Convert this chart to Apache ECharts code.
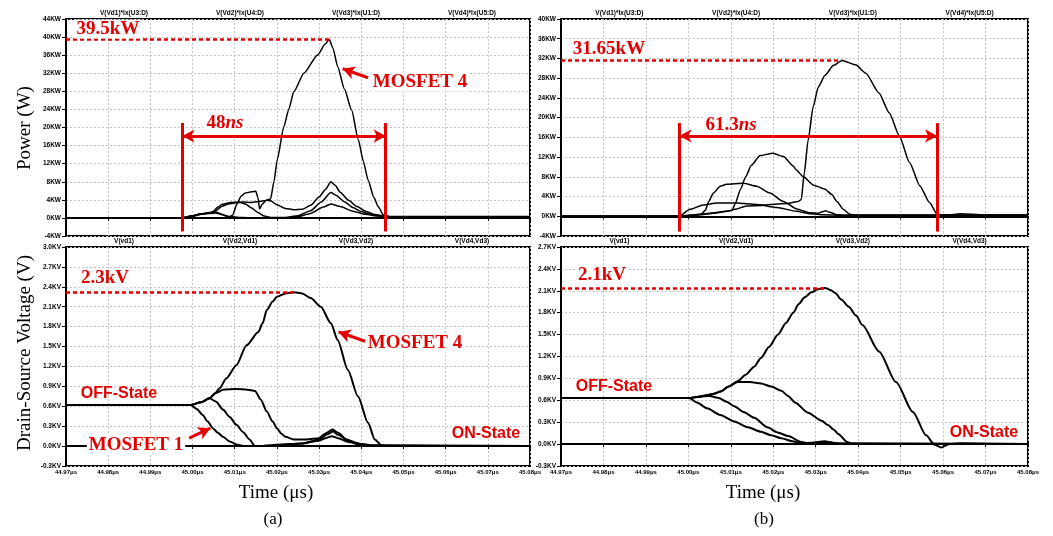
<!DOCTYPE html>
<html><head><meta charset="utf-8">
<script src="https://cdn.jsdelivr.net/npm/echarts@6/dist/echarts.min.js"></script>
<style>html,body{margin:0;padding:0;background:#fff}#c{width:1053px;height:536px}</style>
</head><body><div id="c"></div>
<script>
// ---------- DATA (time in ns, power in kW, voltage in kV) ----------
const tracePowerLabels = ['V(Vd1)*Ix(U3:D)','V(Vd2)*Ix(U4:D)','V(Vd3)*Ix(U1:D)','V(Vd4)*Ix(U5:D)'];
const traceVoltLabels  = ['V(vd1)','V(Vd2,Vd1)','V(Vd3,Vd2)','V(Vd4,Vd3)'];

// (a) power
const powA1 = [[44970,0],[44997.6,0],[45000,0.4],[45002,0.8],[45004,1.0],[45005.5,1.1],[45007,0.7],[45009,0.3],[45011,0.1],[45013,0.05],[45022,0.05],[45025,0.3],[45028,1.0],[45031,2.4],[45032.8,3.1],[45035,2.5],[45038,1.5],[45041,0.8],[45044,0.4],[45046,0.2],[45080,0.1]];
const powA2 = [[44970,0],[44997.6,0],[45000,0.5],[45002,0.9],[45004,1.1],[45005,1.5],[45006,2.4],[45007,3.0],[45009,3.4],[45011,3.5],[45012.5,3.1],[45014,2.2],[45015.5,1.2],[45017,0.4],[45018.5,0.1],[45022,0.1],[45025,0.5],[45028,1.6],[45030.5,3.5],[45032.8,5.6],[45034,5.0],[45036,3.6],[45038,2.3],[45040,1.4],[45042,0.8],[45044,0.5],[45046,0.2],[45080,0.1]];
const powA3 = [[44970,0],[44997.6,0],[45000,0.5],[45002,0.9],[45004,1.2],[45005.5,1.3],[45007,0.8],[45008.5,0.1],[45009.5,0.6],[45010.5,3.0],[45011.5,4.8],[45012.5,5.5],[45014,5.8],[45015,5.9],[45015.5,4.5],[45015.9,2.0],[45016.5,3.0],[45017.5,3.9],[45018.5,3.8],[45020,2.9],[45022,2.1],[45024,1.8],[45026,1.9],[45028,2.8],[45030,4.6],[45031.5,6.3],[45032.8,8.0],[45033.8,7.2],[45035,5.7],[45037,3.9],[45039,2.5],[45041,1.5],[45043,0.8],[45045,0.5],[45047,0.2],[45080,0.1]];
const powA4 = [[44970,0],[44997.6,0],[45000,0.4],[45002,0.8],[45004,1.1],[45005.5,1.6],[45007,2.6],[45008.5,3.1],[45010,3.3],[45012,3.5],[45014,3.4],[45015.5,3.6],[45017,3.8],[45018.5,4.2],[45019.3,8],[45020.1,13],[45021.6,20],[45022.8,24],[45024,27.9],[45026.4,32],[45029.6,36],[45031.5,38.5],[45032.4,39.5],[45033.3,37.5],[45034.4,33.5],[45036,28.5],[45037.7,23.9],[45039.3,17.3],[45040.5,12.5],[45041.6,8.4],[45043,4.5],[45044,2.5],[45045.2,0.7],[45047,0.3],[45080,0.3]];

// (b) power
const powB1 = [[44970,0],[44997.8,0],[45000.4,1.4],[45003.5,2.3],[45006.7,2.7],[45011.4,2.7],[45016.1,2.4],[45020.8,1.8],[45025.5,1.0],[45028.7,0.5],[45031.8,0.3],[45036,0.2],[45080,0.2]];
const powB2 = [[44970,0],[44997.8,0],[45001,0.2],[45003,0.4],[45004,1.2],[45004.8,3.0],[45005.9,4.7],[45007.5,6.1],[45009,6.5],[45013,6.7],[45016.1,6.1],[45019.2,4.7],[45022.4,3.0],[45025.5,1.5],[45028.7,0.7],[45030.5,0.6],[45031.5,0.9],[45032.3,1.1],[45033.3,0.8],[45035,0.3],[45037,0.2],[45080,0.2]];
const powB3 = [[44970,0],[44997.8,0],[45003,0.3],[45006,0.6],[45009,1.0],[45010.3,1.2],[45011,2.5],[45012.3,5.5],[45013.5,8.0],[45014.8,10.3],[45016.9,12.3],[45019.9,12.8],[45022.4,12.1],[45024.7,10.2],[45025.3,9.5],[45027.1,8.0],[45029.5,6.3],[45032.2,5.5],[45033.8,4.4],[45035,3.0],[45036.5,1.4],[45038,0.4],[45040,0.2],[45080,0.2]];
const powB4 = [[44970,0],[44997.8,0],[45000,0.2],[45003,0.4],[45006,0.7],[45009,1.0],[45011,1.4],[45013.7,2.1],[45016.9,2.2],[45019.2,2.4],[45023.2,2.6],[45025.9,3.0],[45026.6,3.4],[45027.3,8.7],[45028.2,15.4],[45029.4,22.2],[45030.6,26.2],[45032.2,28.6],[45034.2,30.6],[45036.2,31.6],[45039.4,30.7],[45041.8,29.0],[45044.9,25.0],[45047.3,21.0],[45049.7,16.3],[45052.1,10.9],[45054.5,6.2],[45056.8,2.8],[45058.6,0.4],[45061,0.2],[45064,0.5],[45067,0.4],[45070,0.2],[45080,0.2]];

// (a) drain-source voltage
const voltA1 = [[44970,0.62],[44999.6,0.62],[45001,0.56],[45002.4,0.47],[45003.6,0.37],[45004.8,0.27],[45006,0.2],[45007.2,0.14],[45008.8,0.07],[45010.4,0.025],[45012,0],[45016,0],[45020,0.02],[45026,0.04],[45030,0.08],[45031.5,0.12],[45033,0.15],[45034.5,0.12],[45037,0.06],[45040,0.02],[45043,0.005],[45080,0]];
const voltA2 = [[44970,0.62],[44999.6,0.62],[45002,0.66],[45004,0.72],[45005.6,0.67],[45007.2,0.55],[45008.8,0.44],[45010.4,0.32],[45012,0.21],[45013.5,0.1],[45014.8,0],[45020,0.01],[45026,0.04],[45030,0.1],[45032,0.18],[45033.3,0.22],[45034.5,0.17],[45037,0.08],[45040,0.03],[45043,0.01],[45080,0]];
const voltA3 = [[44970,0.62],[44999.6,0.62],[45002,0.66],[45004,0.72],[45005.6,0.8],[45007.2,0.85],[45010.4,0.86],[45013,0.85],[45014.8,0.83],[45016.2,0.7],[45017.6,0.52],[45019,0.37],[45020,0.27],[45021,0.19],[45022,0.14],[45024,0.1],[45027,0.1],[45030,0.12],[45031.5,0.19],[45033.2,0.25],[45034.5,0.2],[45036.5,0.1],[45039,0.04],[45042,0.01],[45080,0]];
const voltA4 = [[44970,0.62],[44999.6,0.62],[45002,0.66],[45004,0.72],[45005.4,0.8],[45006.4,0.87],[45008,1.02],[45010.4,1.22],[45012.8,1.52],[45015.6,1.72],[45016.6,1.85],[45017.6,2.05],[45019,2.18],[45020,2.25],[45022,2.3],[45024,2.32],[45026,2.3],[45028,2.23],[45030.4,2.1],[45032.8,1.85],[45034.4,1.6],[45036.8,1.15],[45039.2,0.75],[45041.6,0.35],[45043.2,0.1],[45044.8,0.01],[45046,0],[45080,0]];

// (b) drain-source voltage
const voltB1 = [[44970,0.63],[45000.2,0.63],[45002,0.57],[45004.4,0.49],[45007.5,0.4],[45010.8,0.31],[45014,0.23],[45017.1,0.17],[45019.5,0.12],[45021.9,0.08],[45024.5,0.04],[45026.6,0.01],[45029,0.02],[45032.1,0.04],[45034,0.02],[45036,0],[45080,0]];
const voltB2 = [[44970,0.63],[45000.2,0.63],[45002.5,0.65],[45005,0.66],[45007.2,0.63],[45009,0.58],[45010.8,0.52],[45013,0.44],[45015.5,0.36],[45018.6,0.23],[45021,0.16],[45023.5,0.11],[45026.6,0.03],[45028.5,0.01],[45031,0.02],[45033,0.03],[45035,0.01],[45080,0]];
const voltB3 = [[44970,0.63],[45000.2,0.63],[45002.5,0.65],[45004.4,0.67],[45006,0.69],[45007.6,0.72],[45009.5,0.79],[45011.6,0.85],[45014.5,0.85],[45017.1,0.83],[45019.5,0.79],[45021.9,0.73],[45023.5,0.66],[45025.1,0.57],[45028.2,0.43],[45031.4,0.32],[45032.9,0.26],[45034.2,0.2],[45035.3,0.14],[45037.4,0.03],[45038.5,0.005],[45080,0]];
const voltB4 = [[44970,0.63],[45000.2,0.63],[45002.5,0.65],[45004.4,0.67],[45006,0.69],[45007.6,0.72],[45009.5,0.79],[45011.6,0.86],[45013.5,0.95],[45015.5,1.06],[45017.1,1.18],[45019,1.33],[45021.1,1.5],[45023,1.66],[45024.7,1.8],[45026,1.92],[45027.4,2.01],[45029,2.08],[45030.5,2.12],[45032.2,2.14],[45033.5,2.11],[45034.6,2.07],[45036,1.98],[45037.8,1.88],[45039.5,1.76],[45041,1.63],[45044.9,1.27],[45048.9,0.85],[45052.9,0.44],[45056,0.12],[45058,-0.01],[45059.6,-0.045],[45061.5,0],[45064,0.01],[45080,0]];

// annotation values
const peakPowA = [45032.4, 39.5], peakPowB = [45036.2, 31.65];
const peakVoltA = [45024, 2.32], peakVoltB = [45032.2, 2.14];
const spanA = [44997.6, 45045.8], spanB = [44997.9, 45058.6];

// ---------- CHART ----------
const RED = '#e50000';
const SERIF = '"Liberation Serif","Times New Roman",serif';
const SANS = '"Liberation Sans",Arial,sans-serif';
const chart = echarts.init(document.getElementById('c'), null, {renderer:'canvas'});

const grids = [
  {left:66, top:19, width:464, height:217},
  {left:561, top:19, width:467, height:217},
  {left:66, top:247, width:464, height:219},
  {left:561, top:247, width:467, height:219}
];
const yRanges = [[-4,44,4],[-4,40,4],[-0.3,3.0,0.3],[-0.3,2.7,0.3]];

const xAxes = grids.map((g,i)=>({
  type:'value', gridIndex:i, min:44970, max:45080, interval:10,
  axisLine:{show:true, lineStyle:{color:'#000', width:2}},
  axisTick:{show:true, length:3, lineStyle:{color:'#000'}},
  axisLabel:{show:i>=2, margin:3, fontSize:6, fontWeight:'bold', color:'#000', fontFamily:SANS,
    formatter:v=>(v/1000).toFixed(2)+'μs', showMinLabel:true, showMaxLabel:true},
  splitLine:{show:true, lineStyle:{color:'#c4c4c4', type:[2,2], width:1}}
}));
const yAxes = grids.map((g,i)=>({
  type:'value', gridIndex:i, min:yRanges[i][0], max:yRanges[i][1], interval:yRanges[i][2],
  axisLine:{show:true, lineStyle:{color:'#000', width:2}},
  axisTick:{show:true, length:4, lineStyle:{color:'#000'}},
  axisLabel:{margin:5, fontSize:6.5, fontWeight:'bold', color:'#000', fontFamily:SANS,
    formatter: i<2 ? (v=>Math.round(v)+'KW') : (v=>(Math.abs(v)<1e-9?0:v).toFixed(1)+'KV')},
  splitLine:{show:true, lineStyle:{color:'#c4c4c4', type:[2,2], width:1}}
}));

function mk(lines){
  return {silent:true, animation:false, label:{show:false}, symbol:['none','none'], data:lines};
}
const dotted = {lineStyle:{color:RED, width:2.5, type:[4,3]}};
const solid = {lineStyle:{color:RED, width:3, type:'solid'}};

const powerSets = [[powA1,powA2,powA3,powA4],[powB1,powB2,powB3,powB4]];
const voltSets = [[voltA1,voltA2,voltA3,voltA4],[voltB1,voltB2,voltB3,voltB4]];

const markLines = [
  [
    [Object.assign({coord:[44970,peakPowA[1]]},dotted,{symbol:'none'}), {coord:peakPowA, symbol:'none'}],
    [Object.assign({coord:[spanA[0],-3]},solid,{symbol:'none'}), {coord:[spanA[0],21], symbol:'none'}],
    [Object.assign({coord:[spanA[1],-3]},solid,{symbol:'none'}), {coord:[spanA[1],21], symbol:'none'}],
    [Object.assign({coord:[spanA[0],18.1]},solid,{symbol:'arrow', symbolSize:[10,12]}), {coord:[spanA[1],18.1], symbol:'arrow', symbolSize:[10,12]}],
    [Object.assign({coord:[45041.6,31.0]},solid,{symbol:'none'}), {coord:[45035.6,33.0], symbol:'arrow', symbolSize:[10,12]}]
  ],
  [
    [Object.assign({coord:[44970,peakPowB[1]]},dotted,{symbol:'none'}), {coord:peakPowB, symbol:'none'}],
    [Object.assign({coord:[spanB[0],-3.1]},solid,{symbol:'none'}), {coord:[spanB[0],18.9], symbol:'none'}],
    [Object.assign({coord:[spanB[1],-3.1]},solid,{symbol:'none'}), {coord:[spanB[1],18.9], symbol:'none'}],
    [Object.assign({coord:[spanB[0],16.3]},solid,{symbol:'arrow', symbolSize:[10,12]}), {coord:[spanB[1],16.3], symbol:'arrow', symbolSize:[10,12]}]
  ],
  [
    [Object.assign({coord:[44970,peakVoltA[1]]},dotted,{symbol:'none'}), {coord:peakVoltA, symbol:'none'}],
    [Object.assign({coord:[45040.9,1.58]},solid,{symbol:'none'}), {coord:[45034.6,1.72], symbol:'arrow', symbolSize:[10,12]}],
    [Object.assign({coord:[44999.2,0.12]},solid,{symbol:'none'}), {coord:[45004.2,0.27], symbol:'arrow', symbolSize:[10,12]}]
  ],
  [
    [Object.assign({coord:[44970,peakVoltB[1]]},dotted,{symbol:'none'}), {coord:peakVoltB, symbol:'none'}]
  ]
];

const series = [];
[0,1].forEach(p=>{
  powerSets[p].forEach((d,k)=>{
    series.push({type:'line', xAxisIndex:p, yAxisIndex:p, data:d, showSymbol:false, symbol:'none',
      smooth:0.2, smoothMonotone:'x', lineStyle:{color:'#000', width:1.5}, animation:false, silent:true, z:3,
      markLine: k===3 ? Object.assign(mk(markLines[p]),{z:5}) : undefined});
  });
});
[0,1].forEach(p=>{
  voltSets[p].forEach((d,k)=>{
    series.push({type:'line', xAxisIndex:p+2, yAxisIndex:p+2, data:d, showSymbol:false, symbol:'none',
      smooth:0.25, smoothMonotone:'x', lineStyle:{color:'#000', width:2}, animation:false, silent:true, z:3,
      markLine: k===3 ? Object.assign(mk(markLines[p+2]),{z:5}) : undefined});
  });
});

const graphics = [];
function txt(x,y,text,font,fill,extra){
  graphics.push({type:'text', x:x, y:y, z:100, style:Object.assign({text:text, font:font, fill:fill||'#000', align:'center', verticalAlign:'middle'}, extra||{})});
}
grids.forEach((g,i)=>{
  const labels = i<2 ? tracePowerLabels : traceVoltLabels;
  labels.forEach((s,k)=>{
    txt(g.left + g.width*(2*k+1)/8, g.top-6, s, 'bold 6.5px '+SANS, '#000');
  });
});
const bigSerif = 'bold 19px '+SERIF;
const wbg = {backgroundColor:'#fff', padding:[0,2]};
txt(108,29,'39.5kW',bigSerif,RED,wbg);
txt(420,82,'MOSFET 4',bigSerif,RED,wbg);
txt(609,49,'31.65kW',bigSerif,RED,wbg);
txt(105,278,'2.3kV',bigSerif,RED,wbg);
txt(602,275,'2.1kV',bigSerif,RED,wbg);
txt(415,343,'MOSFET 4',bigSerif,RED,wbg);
txt(136,445,'MOSFET 1',bigSerif,RED,wbg);
const richNs = {rich:{a:{fontFamily:SERIF, fontWeight:'bold', fontSize:19, fill:RED}, b:{fontFamily:SERIF, fontWeight:'bold', fontStyle:'italic', fontSize:19, fill:RED}}, backgroundColor:'#fff', padding:[0,3]};
txt(225,123,'{a|48}{b|ns}',bigSerif,RED,richNs);
txt(731,125,'{a|61.3}{b|ns}',bigSerif,RED,richNs);
const stateFont = 'bold 16px '+SANS;
txt(119,394,'OFF-State',stateFont,RED);
txt(486,434,'ON-State',stateFont,RED);
txt(614,387,'OFF-State',stateFont,RED);
txt(984,433,'ON-State',stateFont,RED);
graphics.push({type:'text', x:25, y:128, rotation:Math.PI/2, z:100, style:{text:'Power (W)', font:'19px '+SERIF, fill:'#000', align:'center', verticalAlign:'middle'}});
graphics.push({type:'text', x:25, y:353, rotation:Math.PI/2, z:100, style:{text:'Drain-Source Voltage (V)', font:'19px '+SERIF, fill:'#000', align:'center', verticalAlign:'middle'}});
txt(276,493,'Time (μs)','19px '+SERIF,'#000');
txt(763,493,'Time (μs)','19px '+SERIF,'#000');
txt(273,520,'(a)','17px '+SERIF,'#000');
txt(764,520,'(b)','17px '+SERIF,'#000');

chart.setOption({
  animation:false,
  backgroundColor:'#fff',
  grid: grids.map(g=>Object.assign({show:true, borderColor:'#000', borderWidth:2, backgroundColor:'transparent', containLabel:false}, g)),
  xAxis:xAxes, yAxis:yAxes, series:series, graphic:graphics
});
</script></body></html>
